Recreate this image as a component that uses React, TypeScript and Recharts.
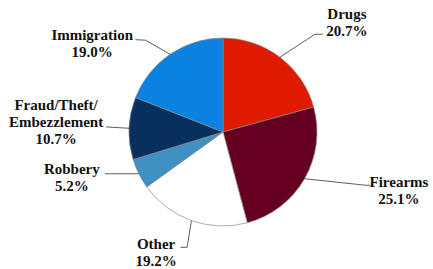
import { PieChart, Pie, Cell } from "recharts";

const categories = ["Drugs", "Firearms", "Other", "Robbery", "Fraud/Theft/\nEmbezzlement", "Immigration"];
const shares = [20.7, 25.1, 19.2, 5.2, 10.7, 19.0];
const valueLabels = ["20.7%", "25.1%", "19.2%", "5.2%", "10.7%", "19.0%"];

const COLORS = ["#E01A00", "#650020", "#FFFFFF", "#4190C4", "#08305E", "#0A82E2"];

// leader line + text placement, relative to the slice's outer edge point
const LABEL_LAYOUT = [
  { pts: [[35, -23], [43, -23]], tx: 67, ty: -38.7 },
  { pts: [[61, 6.5], [66, 6.5]], tx: 94.4, ty: 8.2 },
  { pts: [[-4.3, 26.8], [-10.8, 26.8]], tx: -35.3, ty: 28.3 },
  { pts: [[-34, 0]], tx: -67, ty: 0 },
  { pts: [[-23, -1.4]], tx: -73, ty: -18.7 },
  { pts: [[-24.6, -14.1], [-34.6, -14.6]], tx: -77.9, ty: -14.6 },
];

const data = categories.map((name, i) => ({ name, value: shares[i], label: valueLabels[i] }));

const RAD = Math.PI / 180;
const FONT = "'Liberation Serif', 'Times New Roman', Times, serif";

function renderLabel(props: any) {
  const { cx, cy, midAngle, outerRadius, index } = props;
  const ex = cx + outerRadius * Math.cos(-midAngle * RAD);
  const ey = cy + outerRadius * Math.sin(-midAngle * RAD);
  const lay = LABEL_LAYOUT[index];
  const linePts = [[ex, ey], ...lay.pts.map(([dx, dy]) => [ex + dx, ey + dy])];
  const lines = [...data[index].name.split("\n"), data[index].label];
  return (
    <g key={`lbl-${index}`}>
      <polyline
        points={linePts.map((p) => p.join(",")).join(" ")}
        fill="none"
        stroke="#333"
        strokeWidth={0.8}
      />
      <text
        x={ex + lay.tx}
        y={ey + lay.ty}
        textAnchor="middle"
        style={{ fontFamily: FONT, fontWeight: 700, fontSize: 15, fill: "#111" }}
      >
        {lines.map((t, i) => (
          <tspan key={i} x={ex + lay.tx} dy={i === 0 ? 0 : 17.3}>
            {t}
          </tspan>
        ))}
      </text>
    </g>
  );
}

export default function App() {
  return (
    <div style={{ position: "absolute", left: 0, top: 0, width: 433, height: 269, background: "#fff" }}>
      <PieChart
        width={433}
        height={269}
        margin={{ top: 0, right: 0, bottom: 0, left: 0 }}
        style={{ overflow: "visible" }}
      >
        <Pie
          data={data}
          dataKey="value"
          cx={223}
          cy={132}
          outerRadius={94}
          startAngle={90}
          endAngle={-270}
          stroke="#8a8a8a"
          strokeWidth={0.7}
          label={renderLabel}
          labelLine={false}
          isAnimationActive={false}
        >
          {data.map((d, i) => (
            <Cell key={d.name} fill={COLORS[i]} />
          ))}
        </Pie>
      </PieChart>
    </div>
  );
}
